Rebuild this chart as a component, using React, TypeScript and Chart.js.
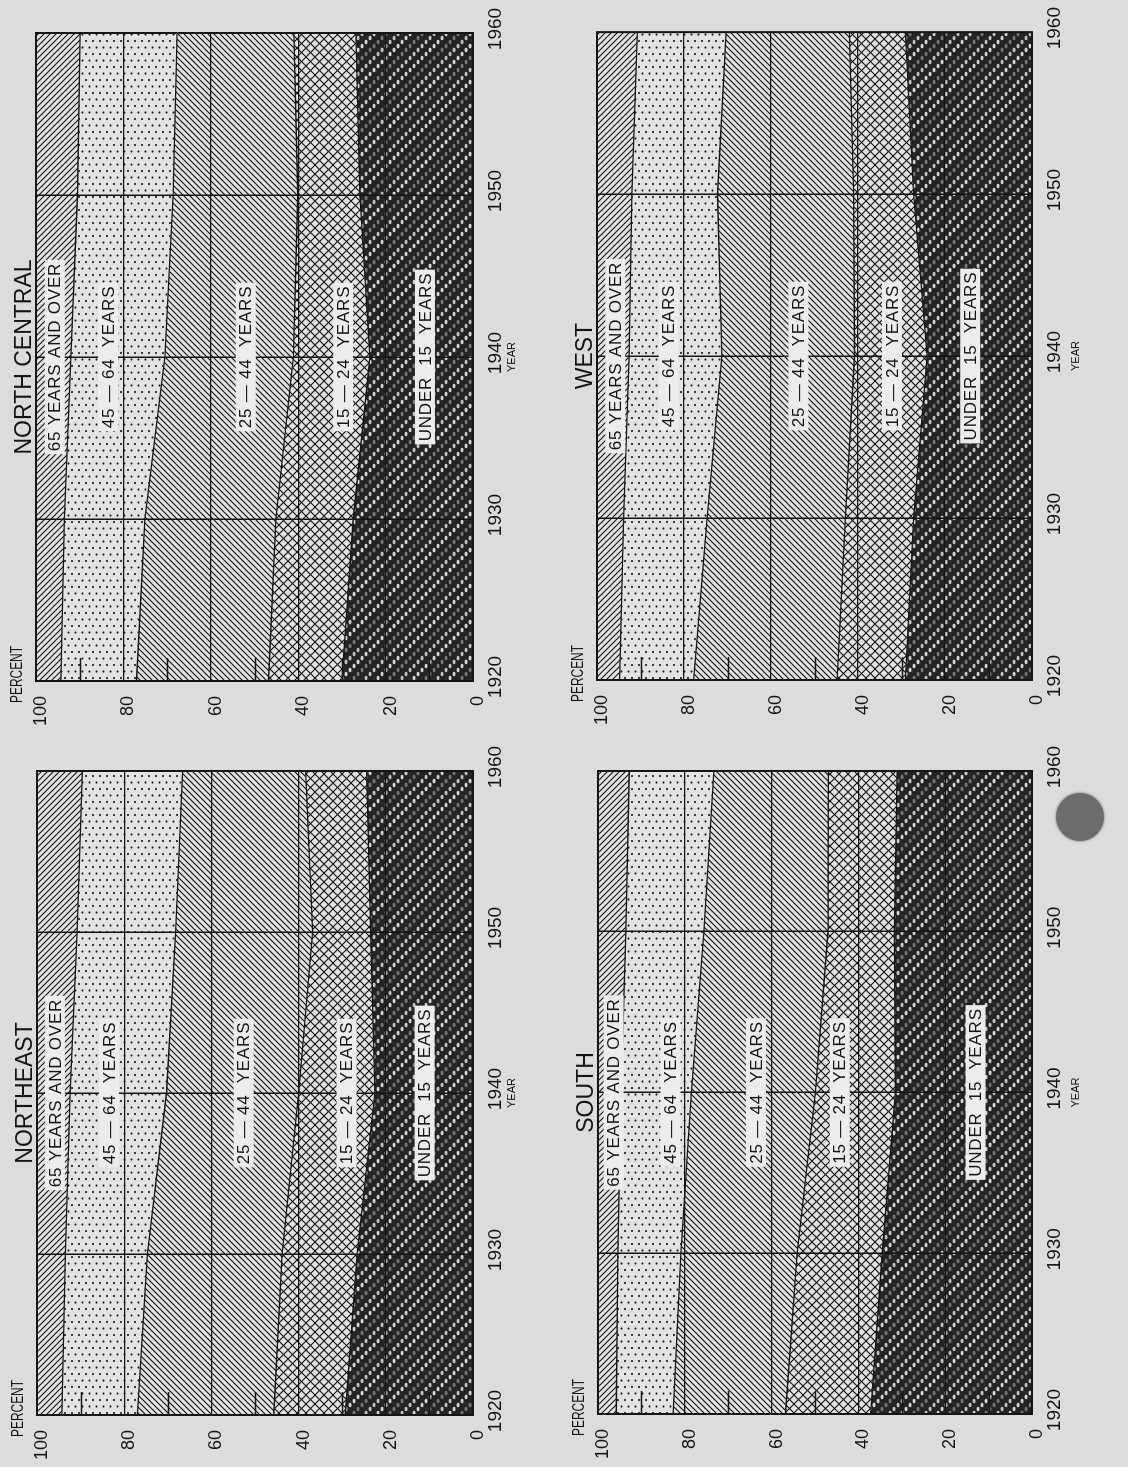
import React, { useEffect, useRef } from 'react';
import { Chart, registerables } from 'chart.js';

Chart.register(...registerables);

// ---------------- data ----------------
const YEARS = [1920, 1930, 1940, 1950, 1960];
const YEAR_STEP = 10;
const PERCENT_MIN = 0;
const PERCENT_MAX = 100;
const PERCENT_STEP = 20;
const MINOR_PERCENT_TICKS = [10, 30, 50, 70, 90];
const LABEL_YEAR = 1940;

const AGE_LABELS = ['UNDER  15  YEARS', '15 — 24  YEARS', '25 — 44  YEARS', '45 — 64  YEARS', '65 YEARS AND OVER'];

// Northeast (percent of population)
const NE_UNDER_15 = [29.3, 26.6, 22.5, 23.5, 24.4];
const NE_15_24 = [16.4, 17.2, 17.5, 13.3, 14.0];
const NE_25_44 = [31.3, 30.9, 30.3, 31.4, 28.2];
const NE_45_64 = [17.3, 18.8, 22.1, 22.6, 23.0];
const NE_65_OVER = [5.7, 6.5, 7.6, 9.2, 10.4];

// North Central
const NC_UNDER_15 = [30.0, 27.4, 23.6, 25.9, 26.8];
const NC_15_24 = [16.8, 17.7, 17.5, 14.2, 14.2];
const NC_25_44 = [30.2, 30.0, 29.4, 28.5, 26.7];
const NC_45_64 = [17.3, 18.4, 21.5, 21.9, 22.2];
const NC_65_OVER = [5.7, 6.5, 8.0, 9.5, 10.1];

// South
const S_UNDER_15 = [37.2, 34.5, 31.5, 31.7, 31.1];
const S_15_24 = [19.6, 19.6, 18.4, 15.3, 15.8];
const S_25_44 = [25.9, 26.8, 28.6, 28.6, 26.4];
const S_45_64 = [13.1, 14.5, 16.2, 18.0, 19.5];
const S_65_OVER = [4.2, 4.6, 5.3, 6.4, 7.2];

// West
const W_UNDER_15 = [29.1, 27.2, 24.1, 27.2, 29.1];
const W_15_24 = [15.7, 15.7, 16.7, 13.8, 12.9];
const W_25_44 = [33.0, 31.8, 30.5, 31.3, 28.3];
const W_45_64 = [17.0, 19.2, 21.3, 19.7, 20.4];
const W_65_OVER = [5.2, 6.1, 7.4, 8.0, 9.3];

// ---------------- styling ----------------
const INK = '#151515';
const PAGE = '#dcdcdc';
const PAPER = '#e2e2e2';
const BOX = '#ececec';
const FONT = '"Liberation Sans", Arial, sans-serif';

type PanelCfg = {
  title: string;
  left: number; top: number; w: number; h: number;
  plot: { l: number; t: number; r: number; b: number };
  series: number[][];
  labelAt: number[];
  yearTitleGap: number;
};

const PANELS: PanelCfg[] = [
  { title: 'NORTHEAST', left: 0, top: 0, w: 735, h: 560, plot: { l: 52, t: 37, r: 696, b: 473 },
    series: [NE_UNDER_15, NE_15_24, NE_25_44, NE_45_64, NE_65_OVER], labelAt: [11.1, 29.0, 52.6, 83.5, 95.9], yearTitleGap: 38.5 },
  { title: 'NORTH CENTRAL', left: 735, top: 0, w: 732, h: 560, plot: { l: 51, t: 36, r: 699, b: 473 },
    series: [NC_UNDER_15, NC_15_24, NC_25_44, NC_45_64, NC_65_OVER], labelAt: [11.0, 29.7, 52.0, 83.5, 95.7], yearTitleGap: 38.5 },
  { title: 'SOUTH', left: 0, top: 560, w: 735, h: 568, plot: { l: 53, t: 38, r: 696, b: 472 },
    series: [S_UNDER_15, S_15_24, S_25_44, S_45_64, S_65_OVER], labelAt: [13.0, 44.3, 63.6, 83.3, 96.4], yearTitleGap: 44 },
  { title: 'WEST', left: 735, top: 560, w: 732, h: 568, plot: { l: 52, t: 37, r: 700, b: 472 },
    series: [W_UNDER_15, W_15_24, W_25_44, W_45_64, W_65_OVER], labelAt: [14.2, 32.2, 53.7, 83.5, 95.8], yearTitleGap: 44 },
];

function tile(w: number, h: number, draw: (g: CanvasRenderingContext2D) => void) {
  const c = document.createElement('canvas');
  c.width = w; c.height = h;
  const g = c.getContext('2d')!;
  draw(g);
  return c;
}

function makeFills(ctx: CanvasRenderingContext2D) {
  // "\" hatch (65 and over)
  const back = tile(6, 6, (g) => {
    g.fillStyle = PAPER; g.fillRect(0, 0, 6, 6);
    g.strokeStyle = INK; g.lineWidth = 1.1; g.beginPath();
    g.moveTo(-1, -1); g.lineTo(7, 7);
    g.moveTo(-1, 5); g.lineTo(1, 7);
    g.moveTo(5, -1); g.lineTo(7, 1);
    g.stroke();
  });
  // dots (45-64)
  const dots = tile(13, 7, (g) => {
    g.fillStyle = PAPER; g.fillRect(0, 0, 13, 7);
    g.fillStyle = INK;
    g.beginPath(); g.arc(2, 2, 1.1, 0, Math.PI * 2); g.fill();
    g.beginPath(); g.arc(8.5, 5.5, 1.1, 0, Math.PI * 2); g.fill();
  });
  // "/" hatch (25-44)
  const fwd = tile(6, 6, (g) => {
    g.fillStyle = PAPER; g.fillRect(0, 0, 6, 6);
    g.strokeStyle = INK; g.lineWidth = 1.2; g.beginPath();
    g.moveTo(-1, 7); g.lineTo(7, -1);
    g.moveTo(-1, 1); g.lineTo(1, -1);
    g.moveTo(5, 7); g.lineTo(7, 5);
    g.stroke();
  });
  // cross hatch (15-24)
  const cross = tile(9, 9, (g) => {
    g.fillStyle = PAPER; g.fillRect(0, 0, 9, 9);
    g.strokeStyle = INK; g.lineWidth = 1.2; g.beginPath();
    g.moveTo(-1, -1); g.lineTo(10, 10);
    g.moveTo(-1, 10); g.lineTo(10, -1);
    g.stroke();
  });
  // dark diagonal rows of light ovals (under 15)
  const T = 36;
  const dark = tile(T, T, (g) => {
    g.fillStyle = '#242424'; g.fillRect(0, 0, T, T);
    const rows = [
      { c: 0, col: '#d6d6d6' },
      { c: 12, col: '#c2c2c2' },
      { c: 24, col: '#767676' },
    ];
    rows.forEach((r) => {
      g.fillStyle = r.col;
      for (let k = 0; k < 9; k++) {
        const px = (4 * k + r.c) % T + 2;
        const py = 4 * k + 2;
        for (const dx of [-T, 0, T]) {
          for (const dy of [-T, 0, T]) {
            g.beginPath();
            g.ellipse(px + dx, py + dy, 2.3, 1.6, 0, 0, Math.PI * 2);
            g.fill();
          }
        }
      }
    });
  });
  return [dark, cross, fwd, dots, back].map((c) => ctx.createPattern(c, 'repeat')!);
}

const decorPlugin = {
  id: 'decor',
  afterDraw(chart: any, _args: any, opts: any) {
    const { ctx, chartArea: a, scales } = chart;
    const x = scales.x;
    const y = scales.y;
    ctx.save();
    ctx.strokeStyle = INK;
    ctx.lineWidth = 1.3;
    ctx.beginPath();
    MINOR_PERCENT_TICKS.forEach((p) => {
      const py = Math.round(y.getPixelForValue(p)) + 0.5;
      ctx.moveTo(a.left, py);
      ctx.lineTo(a.left + 23, py);
    });
    ctx.stroke();

    ctx.lineWidth = 2;
    ctx.strokeRect(a.left, a.top, a.right - a.left, a.bottom - a.top);

    // band labels
    ctx.font = `17px ${FONT}`;
    (ctx as any).letterSpacing = '0.8px';
    ctx.textAlign = 'center';
    ctx.textBaseline = 'middle';
    const cx = x.getPixelForValue(LABEL_YEAR);
    AGE_LABELS.forEach((txt, i) => {
      const cy = y.getPixelForValue(opts.labelAt[i]);
      const w = ctx.measureText(txt).width;
      ctx.fillStyle = BOX;
      ctx.fillRect(cx - w / 2 - 3, cy - 10, w + 6, 20);
      ctx.fillStyle = INK;
      ctx.fillText(txt, cx, cy + 1);
    });

    // panel title
    (ctx as any).letterSpacing = '0px';
    ctx.textBaseline = 'alphabetic';
    ctx.font = `23px ${FONT}`;
    ctx.fillText(opts.title, (a.left + a.right) / 2, a.top - 5);

    // PERCENT
    ctx.textAlign = 'left';
    ctx.font = `17px ${FONT}`;
    ctx.fillText('PERCENT', a.left - 22, a.top - 14, 57);
    ctx.restore();
  },
};

function Panel({ cfg }: { cfg: PanelCfg }) {
  const ref = useRef<HTMLCanvasElement>(null);
  useEffect(() => {
    const canvas = ref.current!;
    const fills = makeFills(canvas.getContext('2d')!);
    const axisH = cfg.h - cfg.plot.b;
    const yearLabelLine = 11 * 1.2;
    const chart = new Chart(canvas, {
      type: 'line',
      data: {
        datasets: cfg.series.map((vals, i) => ({
          label: AGE_LABELS[i],
          data: YEARS.map((yr, k) => ({ x: yr, y: vals[k] })),
          backgroundColor: fills[i] as any,
          borderColor: INK,
          borderWidth: 1.3,
          pointRadius: 0,
          tension: 0,
          fill: i === 0 ? 'origin' : '-1',
        })),
      },
      options: {
        responsive: false,
        animation: false,
        events: [],
        layout: { padding: { left: 0, top: cfg.plot.t, right: cfg.w - cfg.plot.r, bottom: 0 } },
        plugins: {
          legend: { display: false },
          tooltip: { enabled: false },
          decor: { title: cfg.title, labelAt: cfg.labelAt },
        } as any,
        scales: {
          x: {
            type: 'linear',
            min: YEARS[0],
            max: YEARS[YEARS.length - 1],
            afterFit: (s: any) => { s.height = axisH; },
            border: { display: false },
            grid: {
              z: 1,
              drawTicks: false,
              lineWidth: 1.5,
              color: (c: any) => (c.tick && (c.tick.value === YEARS[0] || c.tick.value === YEARS[YEARS.length - 1]) ? 'rgba(0,0,0,0)' : INK),
            },
            ticks: {
              stepSize: YEAR_STEP,
              padding: 11,
              labelOffset: 4,
              color: INK,
              font: { family: FONT, size: 19 },
              callback: (v: any) => String(v),
            },
            title: {
              display: true,
              text: 'YEAR',
              color: INK,
              font: { family: FONT, size: 11 },
              padding: { top: 0, bottom: axisH - cfg.yearTitleGap - yearLabelLine / 2 },
            },
          },
          y: {
            type: 'linear',
            stacked: true,
            min: PERCENT_MIN,
            max: PERCENT_MAX,
            afterFit: (s: any) => { s.width = cfg.plot.l; },
            border: { display: false },
            grid: {
              z: 1,
              drawTicks: false,
              lineWidth: 1.3,
              color: (c: any) => (c.tick && (c.tick.value === PERCENT_MIN || c.tick.value === PERCENT_MAX) ? 'rgba(0,0,0,0)' : INK),
            },
            ticks: {
              stepSize: PERCENT_STEP,
              padding: 15,
              labelOffset: 5,
              color: INK,
              font: { family: FONT, size: 18 },
            },
          },
        },
      },
      plugins: [decorPlugin],
    });
    return () => chart.destroy();
  }, []);
  return (
    <canvas
      ref={ref}
      width={cfg.w}
      height={cfg.h}
      style={{ position: 'absolute', left: cfg.left, top: cfg.top, width: cfg.w, height: cfg.h }}
    />
  );
}

export default function App() {
  return (
    <div style={{ position: 'fixed', left: 0, top: 0, width: 1128, height: 1467, background: PAGE, overflow: 'hidden' }}>
      <div
        style={{
          position: 'absolute', left: 0, top: 0, width: 1467, height: 1128,
          transformOrigin: '0 0', transform: 'translateY(1467px) rotate(-90deg)',
        }}
      >
        {PANELS.map((p) => <Panel key={p.title} cfg={p} />)}
      </div>
      <div
        style={{
          position: 'absolute', left: 1056, top: 793, width: 48, height: 48, borderRadius: '50%',
          background: '#6c6c6c', boxShadow: '0 0 3px #6c6c6c',
        }}
      />
    </div>
  );
}
